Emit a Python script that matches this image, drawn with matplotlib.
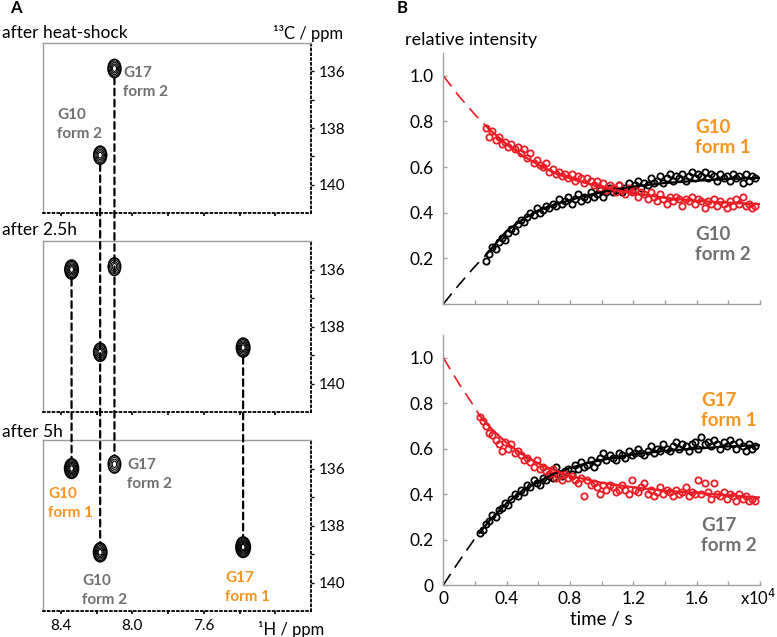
import numpy as np
import matplotlib
matplotlib.use("Agg")
import matplotlib.pyplot as plt
from matplotlib.patches import Ellipse, ConnectionPatch

plt.rcParams["font.family"] = ["Lato", "DejaVu Sans"]

ORANGE = "#f7931e"
GREY = "#707070"
RED = "#ec1c24"

# --- Panel A: peak positions (1H ppm, 13C ppm) and contour level counts ---
panel_titles = ["after heat-shock", "after 2.5h", "after 5h"]

heat_names = ["G10 form 2", "G17 form 2"]
heat_h = [8.18, 8.10]
heat_c = [138.96, 135.90]
heat_levels = [5, 5]

h25_names = ["G10 form 1", "G10 form 2", "G17 form 2", "G17 form 1"]
h25_h = [8.34, 8.18, 8.10, 7.38]
h25_c = [136.00, 138.90, 135.90, 138.74]
h25_levels = [6, 5, 4, 6]

h5_names = ["G10 form 1", "G10 form 2", "G17 form 2", "G17 form 1"]
h5_h = [8.34, 8.18, 8.10, 7.38]
h5_c = [136.00, 138.94, 135.85, 138.76]
h5_levels = [7, 6, 4, 8]

# --- Panel B: relative intensities over time (s) ---
t_g10 = [2700, 2900, 3100, 3300, 3500, 3700, 3900, 4100, 4300, 4500,
         4700, 4900, 5100, 5300, 5500, 5700, 5900, 6100, 6300, 6500,
         6700, 6900, 7100, 7300, 7500, 7700, 7900, 8100, 8300, 8500,
         8700, 8900, 9100, 9300, 9500, 9700, 9900, 10100, 10300, 10500,
         10700, 10900, 11100, 11300, 11500, 11700, 11900, 12100, 12300, 12500,
         12700, 12900, 13100, 13300, 13500, 13700, 13900, 14100, 14300, 14500,
         14700, 14900, 15100, 15300, 15500, 15700, 15900, 16100, 16300, 16500,
         16700, 16900, 17100, 17300, 17500, 17700, 17900, 18100, 18300, 18500,
         18700, 18900, 19100, 19300, 19500, 19700]
g10_form1 = [0.77, 0.73, 0.76, 0.72, 0.73, 0.70, 0.71, 0.69, 0.70, 0.68,
             0.69, 0.66, 0.68, 0.64, 0.66, 0.62, 0.63, 0.61, 0.60, 0.62,
             0.58, 0.59, 0.57, 0.58, 0.56, 0.57, 0.55, 0.57, 0.54, 0.56,
             0.55, 0.53, 0.55, 0.54, 0.52, 0.54, 0.51, 0.53, 0.50, 0.52,
             0.51, 0.49, 0.52, 0.50, 0.48, 0.51, 0.49, 0.50, 0.47, 0.49,
             0.48, 0.46, 0.49, 0.47, 0.45, 0.48, 0.46, 0.44, 0.47, 0.45,
             0.47, 0.46, 0.43, 0.46, 0.45, 0.47, 0.44, 0.46, 0.45, 0.42,
             0.45, 0.44, 0.46, 0.43, 0.45, 0.44, 0.42, 0.45, 0.43, 0.46,
             0.44, 0.47, 0.43, 0.44, 0.42, 0.43]
g10_form2 = [0.19, 0.22, 0.25, 0.24, 0.27, 0.29, 0.28, 0.31, 0.33, 0.32,
             0.35, 0.37, 0.36, 0.38, 0.40, 0.39, 0.42, 0.40, 0.41, 0.43,
             0.42, 0.44, 0.43, 0.46, 0.44, 0.45, 0.47, 0.44, 0.46, 0.48,
             0.45, 0.47, 0.46, 0.49, 0.47, 0.48, 0.50, 0.47, 0.49, 0.51,
             0.49, 0.50, 0.52, 0.49, 0.51, 0.53, 0.50, 0.52, 0.54, 0.51,
             0.53, 0.52, 0.55, 0.53, 0.54, 0.56, 0.53, 0.55, 0.57, 0.54,
             0.56, 0.55, 0.57, 0.54, 0.56, 0.58, 0.55, 0.57, 0.56, 0.58,
             0.55, 0.57, 0.56, 0.54, 0.57, 0.55, 0.56, 0.54, 0.57, 0.55,
             0.56, 0.53, 0.57, 0.54, 0.56, 0.55]

t_g17 = [2300, 2500, 2700, 2900, 3100, 3300, 3500, 3700, 3900, 4100,
         4300, 4500, 4700, 4900, 5100, 5300, 5500, 5700, 5900, 6100,
         6300, 6500, 6700, 6900, 7100, 7300, 7500, 7700, 7900, 8100,
         8300, 8500, 8700, 8900, 9100, 9300, 9500, 9700, 9900, 10100,
         10300, 10500, 10700, 10900, 11100, 11300, 11500, 11700, 11900, 12100,
         12300, 12500, 12700, 12900, 13100, 13300, 13500, 13700, 13900, 14100,
         14300, 14500, 14700, 14900, 15100, 15300, 15500, 15700, 15900, 16100,
         16300, 16500, 16700, 16900, 17100, 17300, 17500, 17700, 17900, 18100,
         18300, 18500, 18700, 18900, 19100, 19300, 19500, 19700]
g17_form1 = [0.74, 0.72, 0.70, 0.67, 0.66, 0.64, 0.62, 0.59, 0.63, 0.60,
             0.62, 0.58, 0.59, 0.57, 0.55, 0.56, 0.54, 0.52, 0.55, 0.51,
             0.52, 0.50, 0.49, 0.51, 0.47, 0.48, 0.46, 0.49, 0.47, 0.48,
             0.46, 0.45, 0.47, 0.39, 0.46, 0.44, 0.45, 0.43, 0.40, 0.44,
             0.42, 0.44, 0.43, 0.41, 0.42, 0.44, 0.42, 0.40, 0.46, 0.42,
             0.41, 0.43, 0.45, 0.40, 0.42, 0.39, 0.41, 0.43, 0.40, 0.42,
             0.41, 0.39, 0.42, 0.40, 0.41, 0.43, 0.39, 0.41, 0.40, 0.46,
             0.40, 0.45, 0.41, 0.38, 0.45, 0.40, 0.39, 0.41, 0.38, 0.40,
             0.39, 0.37, 0.40, 0.38, 0.39, 0.37, 0.38, 0.37]
g17_form2 = [0.23, 0.24, 0.27, 0.28, 0.31, 0.30, 0.33, 0.34, 0.36, 0.35,
             0.38, 0.40, 0.39, 0.42, 0.41, 0.44, 0.43, 0.46, 0.45, 0.44,
             0.47, 0.46, 0.48, 0.47, 0.52, 0.49, 0.48, 0.50, 0.51, 0.49,
             0.53, 0.51, 0.54, 0.52, 0.53, 0.55, 0.52, 0.54, 0.56, 0.58,
             0.55, 0.57, 0.56, 0.55, 0.58, 0.57, 0.56, 0.59, 0.57, 0.58,
             0.60, 0.58, 0.57, 0.59, 0.61, 0.58, 0.60, 0.59, 0.62, 0.60,
             0.59, 0.61, 0.63, 0.60, 0.62, 0.61, 0.59, 0.62, 0.63, 0.60,
             0.65, 0.62, 0.63, 0.61, 0.64, 0.62, 0.60, 0.63, 0.61, 0.64,
             0.62, 0.60, 0.63, 0.61, 0.59, 0.62, 0.60, 0.61]

# fitted curves
fit_t_g10 = [0, 1000, 2000, 2700, 3000, 4000, 5000, 6000, 7000, 8000,
             9000, 10000, 12000, 14000, 16000, 18000, 20000]
fit_g10_form1 = [1.0, 0.91, 0.83, 0.78, 0.76, 0.70, 0.65, 0.61, 0.575, 0.55,
                 0.53, 0.51, 0.485, 0.465, 0.452, 0.444, 0.438]
fit_g10_form2 = [0.0, 0.085, 0.165, 0.215, 0.24, 0.32, 0.37, 0.41, 0.435, 0.455,
                 0.475, 0.49, 0.515, 0.53, 0.54, 0.548, 0.553]
fit_t_g17 = [0, 1000, 2000, 2300, 3000, 4000, 5000, 6000, 7000, 8000,
             9000, 10000, 12000, 14000, 16000, 18000, 20000]
fit_g17_form1 = [1.0, 0.885, 0.78, 0.745, 0.69, 0.625, 0.575, 0.535, 0.505, 0.48,
                 0.465, 0.45, 0.43, 0.415, 0.405, 0.395, 0.385]
fit_g17_form2 = [0.0, 0.105, 0.205, 0.23, 0.29, 0.36, 0.415, 0.455, 0.49, 0.515,
                 0.535, 0.55, 0.575, 0.59, 0.60, 0.61, 0.615]

fig = plt.figure(figsize=(7.77, 6.37), dpi=100)

# ---------------- panel A ----------------
a_rects = [[0.0553, 0.6656, 0.345, 0.2669],
           [0.0553, 0.3532, 0.345, 0.2684],
           [0.0553, 0.0408, 0.345, 0.2684]]
title_y = [33, 230, 432]
spectra = [(heat_names, heat_h, heat_c, heat_levels),
           (h25_names, h25_h, h25_c, h25_levels),
           (h5_names, h5_h, h5_c, h5_levels)]

PEAK_W = 0.072
PEAK_H = 0.64

axes_a = []
for i, rect in enumerate(a_rects):
    ax = fig.add_axes(rect)
    axes_a.append(ax)
    ax.set_xlim(8.5, 7.0)
    ax.set_ylim(141, 135)
    for side in ["top", "left"]:
        ax.spines[side].set_color("#9a9a9a")
        ax.spines[side].set_linewidth(1.0)
    for side in ["right", "bottom"]:
        ax.spines[side].set_color("k")
        ax.spines[side].set_linestyle(":")
        ax.spines[side].set_linewidth(1.3)
    ax.yaxis.tick_right()
    ax.set_yticks([136, 138, 140])
    ax.set_yticks([137, 139], minor=True)
    ax.set_xticks([8.4, 8.2, 8.0, 7.8, 7.6, 7.4, 7.2])
    if i == 2:
        ax.set_xticklabels(["8.4", "", "8.0", "", "7.6", "", ""])
    else:
        ax.set_xticklabels([])
    ax.tick_params(axis="y", which="both", direction="out", length=2.5,
                   width=1.0, labelsize=11, pad=3)
    ax.tick_params(axis="x", direction="out", length=2.5, width=1.2,
                   labelsize=11, pad=3)

    names, hs, cs, levels = spectra[i]
    for h, c, n in zip(hs, cs, levels):
        f = 0.8 + 0.04 * n
        for k in range(n):
            s = 1 - 0.85 * k / n
            ax.add_patch(Ellipse((h, c), PEAK_W * f * s, PEAK_H * f * s,
                                 fill=False, ec="k", lw=0.8 if k else 1.2))
    fig.text(0.002, 1 - title_y[i] / 637, panel_titles[i], fontsize=12.5,
             ha="left", va="center")

# dashed guide lines from the first appearance of a peak down to the last panel
last_names, last_h, last_c, last_lv = spectra[2]
for name, hb, cb, nb in zip(last_names, last_h, last_c, last_lv):
    for j in range(2):
        names, hs, cs, levels = spectra[j]
        if name in names:
            k = names.index(name)
            fa = 0.8 + 0.04 * levels[k]
            fb = 0.8 + 0.04 * nb
            con = ConnectionPatch(xyA=(hs[k], cs[k] + PEAK_H * fa / 2),
                                  coordsA=axes_a[j].transData,
                                  xyB=(hs[k], cb - PEAK_H * fb / 2),
                                  coordsB=axes_a[2].transData,
                                  color="k", lw=1.6, linestyle=(0, (3, 2)))
            fig.add_artist(con)
            break

lab = dict(fontsize=11, fontweight="bold", ha="left", va="center",
           linespacing=1.45)
axes_a[0].text(8.05, 136.38, "G17\nform 2", color=GREY, **lab)
axes_a[0].text(8.42, 137.88, "G10\nform 2", color=GREY, **lab)
axes_a[2].text(8.47, 137.23, "G10\nform 1", color=ORANGE, **lab)
axes_a[2].text(8.03, 136.22, "G17\nform 2", color=GREY, **lab)
axes_a[2].text(8.28, 140.28, "G10\nform 2", color=GREY, **lab)
axes_a[2].text(7.48, 140.19, "G17\nform 1", color=ORANGE, **lab)

fig.text(343 / 777, 1 - 33 / 637, "¹³C / ppm", fontsize=12, ha="right", va="center")
fig.text(291 / 777, 1 - 629 / 637, "¹H / ppm", fontsize=12, ha="center", va="center")
fig.text(16 / 777, 1 - 8 / 637, "A", fontsize=12, fontweight="bold", ha="center", va="center")
fig.text(402 / 777, 1 - 8 / 637, "B", fontsize=12, fontweight="bold", ha="center", va="center")

# ---------------- panel B ----------------
b_rects = [[0.5705, 0.5228, 0.4076, 0.394],
           [0.5705, 0.0816, 0.4076, 0.3925]]
kinetics = [(t_g10, g10_form1, g10_form2, fit_t_g10, fit_g10_form1, fit_g10_form2,
             "G10"),
            (t_g17, g17_form1, g17_form2, fit_t_g17, fit_g17_form1, fit_g17_form2,
             "G17")]

for i, rect in enumerate(b_rects):
    ax = fig.add_axes(rect)
    t, f1, f2, ft, ff1, ff2, res = kinetics[i]
    ft = np.array(ft)
    ax.plot(t, f2, "o", mfc="none", mec="k", ms=4.5, mew=1.3)
    ax.plot(t, f1, "o", mfc="none", mec=RED, ms=4.5, mew=1.3)
    early = ft <= t[0]
    late = ft >= t[0]
    for vals, col in [(ff2, "k"), (ff1, RED)]:
        vals = np.array(vals)
        ax.plot(ft[early], vals[early], color=col, lw=1.2, linestyle=(0, (8, 4.5)))
        ax.plot(ft[late], vals[late], color=col, lw=1.6)

    ax.set_xlim(0, 20000)
    ax.set_ylim(0, 1.1)
    for side in ["top", "right"]:
        ax.spines[side].set_visible(False)
    for side in ["left", "bottom"]:
        ax.spines[side].set_color("#a0a0a0")
        ax.spines[side].set_linewidth(1.0)
    ax.set_xticks(np.arange(0, 20001, 2000))
    ax.tick_params(direction="in", length=3, width=1.0, color="#a0a0a0",
                   labelsize=12.5, pad=7)
    if i == 0:
        ax.set_yticks([0.2, 0.4, 0.6, 0.8, 1.0])
        ax.set_xticklabels([])
        ax.text(15900, 0.73, res + "\nform 1", color=ORANGE, fontsize=13.5,
                fontweight="bold", ha="left", va="center")
        ax.text(15900, 0.26, res + "\nform 2", color=GREY, fontsize=13.5,
                fontweight="bold", ha="left", va="center")
    else:
        ax.set_yticks([0, 0.2, 0.4, 0.6, 0.8, 1.0])
        ax.set_yticklabels(["0", "0.2", "0.4", "0.6", "0.8", "1.0"])
        ax.set_xticklabels(["0", "", "0.4", "", "0.8", "", "1.2", "", "1.6", "",
                            ""])
        ax.tick_params(axis="x", pad=4)
        ax.text(16300, 0.767, res + "\nform 1", color=ORANGE, fontsize=13.5,
                fontweight="bold", ha="left", va="center")
        ax.text(16300, 0.219, res + "\nform 2", color=GREY, fontsize=13.5,
                fontweight="bold", ha="left", va="center")
        ax.set_xlabel("time / s", fontsize=13.5, labelpad=3)

fig.text(740 / 777, 1 - 598 / 637, "x10$^4$", fontsize=12, ha="left", va="center")
fig.text(405 / 777, 1 - 40 / 637, "relative intensity", fontsize=13,
         ha="left", va="center")

fig.savefig("out.png", dpi=100)
